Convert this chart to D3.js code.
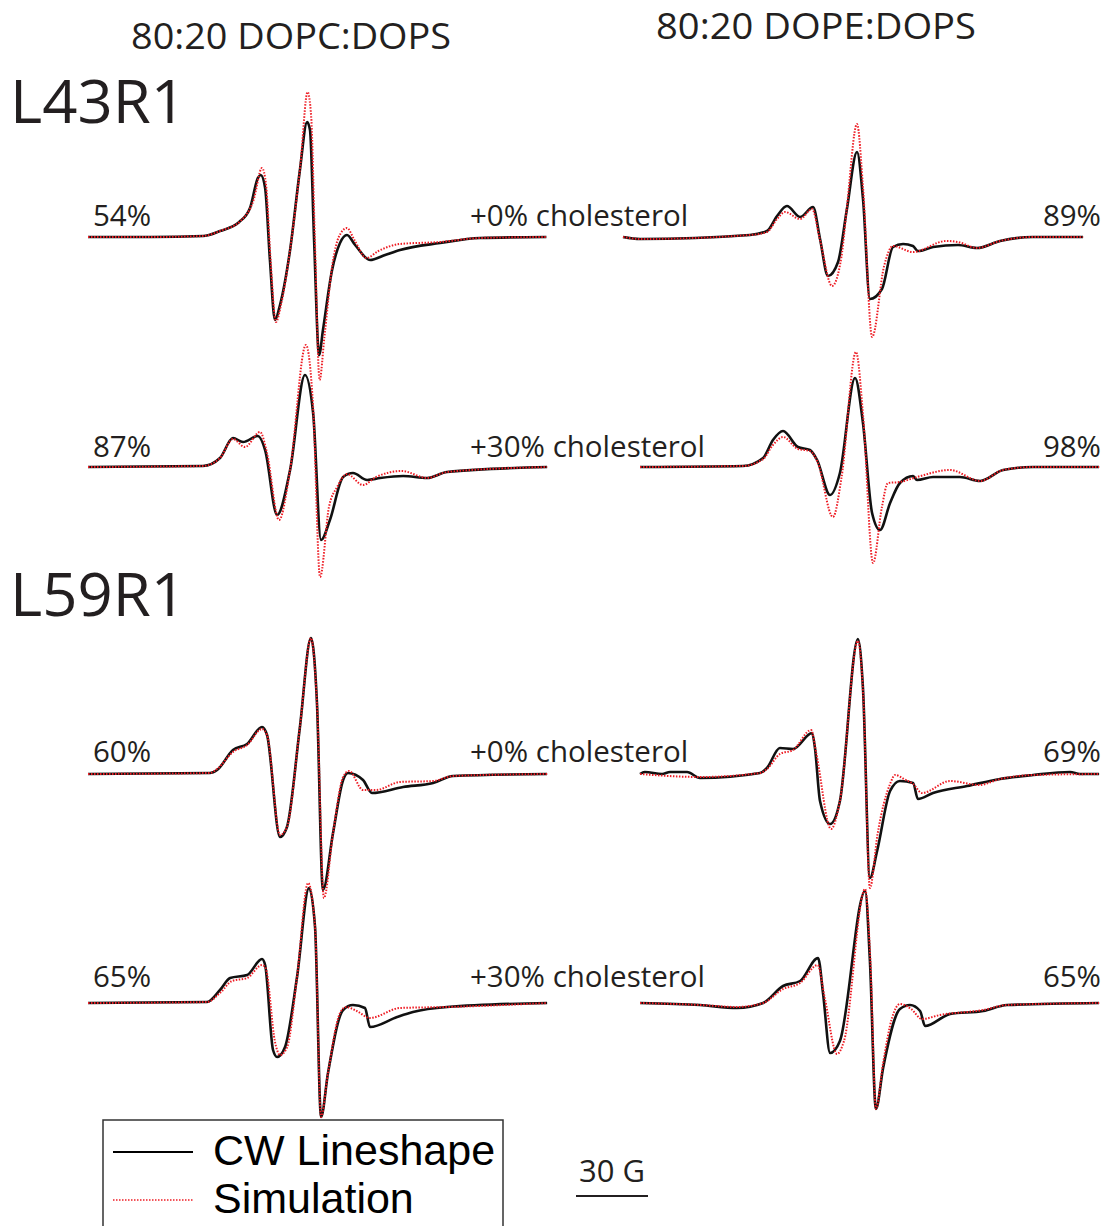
<!DOCTYPE html>
<html>
<head>
<meta charset="utf-8">
<script src="https://cdn.jsdelivr.net/npm/d3@7"></script>
<style>
  body { margin: 0; background: #fff; }
  text { font-family: "Open Sans", "Noto Sans", sans-serif; fill: #231f20; }
  .legend text { font-family: "Liberation Sans", Arial, sans-serif; fill: #000; }
</style>
</head>
<body>
<svg id="chart"></svg>
<script>
// field in G (0 = left end of each sweep), amplitude in a.u.
const l43DopcChol0Cw = [[0,0],[26,0],[48,1],[55,6],[63,15],[67.5,29],[70.8,59],[72,62],[73.8,49],[75.8,-23],[77.9,-83],[80,-68],[84.2,-13],[88.3,67],[91.3,115],[92.5,107],[94.2,-3],[96.3,-118],[97.9,-93],[101.7,-33],[105,-6],[107.9,2],[111.3,-8],[117.5,-23],[123.8,-18],[130,-13],[146.7,-6],[163.3,-1],[191,0]];
const l43DopcChol0Sim = [[0,0],[26,0],[48,1],[55,6],[63.5,16],[69,37],[72.5,69],[74.2,52],[76,-20],[78.3,-85],[80.4,-68],[84.2,-13],[88.5,72],[91.5,145],[93,120],[94.5,0],[96.5,-143],[98.5,-100],[102,-25],[104.5,0],[107.9,9],[111,-3],[116,-21],[121,-14],[130,-7],[146.7,-5],[163.3,-1],[191,0]];

const l43DopeChol0Cw = [[0,0],[7.1,-2],[52.9,2],[60,6],[64.2,21],[68.3,31],[73.8,20],[79.2,30],[82.1,-2],[85.4,-39],[89.6,-25],[93.3,28],[97.5,85],[100,38],[102.9,-62],[107.9,-52],[112.5,-10],[116.7,-7],[120.8,-9],[122.9,-14],[129.2,-10],[139.6,-8],[147.5,-11],[157.1,-4],[170.8,0],[191.7,0]];
const l43DopeChol0Sim = [[0,0],[7.1,-2],[52.9,2],[60,5],[64.2,18],[67.5,25],[73.8,18],[78.8,28],[82,-2],[87.1,-49],[91,-20],[93.3,30],[97.5,113],[100,50],[103.8,-100],[108.8,-29],[112.5,-9],[120.8,-15],[134.6,-4],[139.6,-5],[147.5,-11],[157.1,-4],[170.8,0],[191.7,0]];

const l43DopcChol30Cw = [[0,0],[47.9,1],[55,9],[60.4,29],[64.6,25],[70.8,31],[73.8,17],[78.8,-48],[84.2,-3],[90.4,92],[93.8,54],[97.1,-73],[100.8,-53],[106.3,-10],[110.4,-6],[116.3,-13],[121.7,-11],[131.3,-9],[141.3,-11],[149.6,-5],[191.3,0]];
const l43DopcChol30Sim = [[0,0],[47.9,1],[55,9],[60.4,28],[65.4,20],[71.7,35],[74.5,15],[79.6,-53],[84.2,-3],[90.8,122],[93.8,60],[96.7,-110],[100.4,-40],[103.8,-20],[107.9,-7],[114.6,-18],[120,-10],[130.8,-4],[141.3,-11],[149.6,-5],[191.3,0]];

const l43DopeChol30Cw = [[0,0],[42.9,1],[51.3,9],[55.4,27],[59.6,36],[65.8,20],[70.8,17],[73.8,7],[79.2,-28],[83.3,-6],[89.6,89],[92.9,44],[96.7,-46],[100,-63],[104.2,-36],[108.3,-16],[113.8,-9],[115.4,-13],[122.1,-10],[133.3,-10],[141.7,-14],[151.3,-3],[163.8,0],[191.3,0]];
const l43DopeChol30Sim = [[0,0],[42.9,1],[51.3,8],[55.4,22],[59.6,30],[65.8,18],[70.8,16],[74,5],[80.4,-50],[84,-10],[90,115],[93,50],[97.1,-96],[100.8,-40],[103.3,-16],[108.3,-15],[115.4,-10],[129.2,-3],[141.7,-14],[151.3,-3],[163.8,0],[191.3,0]];

const l59DopcChol0Cw = [[0,0],[50.8,1],[53.8,4],[60.4,24],[66.3,30],[72.5,47],[74.6,39],[80,-63],[82.9,-53],[88.3,47],[92.9,136],[95.4,71],[97.9,-116],[102.1,-59],[106.3,-6],[108.3,1],[114.6,-6],[118.3,-19],[131.3,-13],[143.8,-9],[152.1,-2],[191.3,0]];
const l59DopcChol0Sim = [[0,0],[50.8,1],[53.8,5],[60.4,22],[66.3,29],[72.5,45],[74.6,39],[80,-61],[82.9,-53],[88.3,47],[92.9,136],[95.4,71],[98.3,-124],[102.1,-59],[106.3,-3],[108.8,3],[114.6,-16],[120,-16],[130,-8],[143.8,-7],[152.1,-2],[191.3,0]];

const l59DopeChol0Cw = [[0,0],[2,2],[9.2,0],[12.5,2],[19.6,2],[25,-4],[50,1],[52.9,6],[58.3,26],[63.8,25],[71.7,41],[72.9,26],[75,-27],[79.2,-50],[83.3,-27],[90.8,135],[92.9,86],[95.8,-104],[98.8,-77],[104.2,-17],[108.3,-7],[113.8,-9],[115.8,-25],[122.1,-19],[136.3,-12],[150,-5],[163.8,-1],[179.2,2],[183.3,0],[191.3,0]];
const l59DopeChol0Sim = [[0,0],[25,-3],[50,1],[52.9,5],[58.3,20],[63.8,24],[71.3,44],[73.5,20],[79.6,-55],[83.3,-27],[90.8,133],[93,80],[95.8,-114],[99,-60],[104.2,-10],[106.3,-1],[110,-5],[113.8,-10],[117.5,-19],[129.2,-7],[141.3,-11],[150,-5],[163.8,-1],[191.3,0]];

const l59DopcChol30Cw = [[0,0],[49.6,1],[55,13],[59.2,25],[66.3,28],[72.5,44],[73.8,38],[77.1,-47],[78.8,-54],[82.1,-44],[87.1,26],[92.1,115],[94.6,76],[97.1,-114],[100,-70],[106.3,-7],[110.4,-2],[115.4,-5],[117.5,-24],[128.8,-14],[135.4,-9],[149.6,-4],[191.3,0]];
const l59DopcChol30Sim = [[0,0],[49.6,1],[55,10],[60,22],[66.3,25],[72.5,38],[74,35],[78,-40],[80,-52],[83,-44],[87.1,26],[91.7,120],[94.6,76],[97.1,-114],[100,-70],[105,-10],[107.5,-4],[112,-8],[117.5,-15],[130,-5],[149.6,-4],[191.3,0]];

const l59DopeChol30Cw = [[0,0],[25,-2],[40.4,-5],[51.3,0],[59.6,17],[66.7,22],[74.2,45],[76.3,9],[79.2,-50],[83.3,-38],[93.8,112],[95.8,42],[98.3,-106],[101.3,-65],[108.3,-6],[112.5,-2],[116.7,-8],[118.8,-23],[129.2,-11],[143,-8],[152.9,-2],[191.3,0]];
const l59DopeChol30Sim = [[0,0],[25,-2],[40.4,-4],[51.3,0],[59.6,14],[66.7,20],[74,38],[77,5],[82.1,-51],[85,-38],[93.8,114],[96,42],[98.3,-106],[101.3,-60],[105,-15],[108.3,-1],[113,-6],[117.5,-16],[125,-12],[143,-7],[152.9,-2],[191.3,0]];

const lipidTitles = ["80:20 DOPC:DOPS", "80:20 DOPE:DOPS"];
const mutants = ["L43R1", "L59R1"];
const cholLabels = ["+0% cholesterol", "+30% cholesterol", "+0% cholesterol", "+30% cholesterol"];
const dopcPct = ["54%", "87%", "60%", "65%"];
const dopePct = ["89%", "98%", "69%", "65%"];
const legendLabels = ["CW Lineshape", "Simulation"];
const scaleBarG = 30;

const W = 1105, H = 1226;
const svg = d3.select("#chart").attr("width", W).attr("height", H);

// layout of the eight spectra: left edge and baseline of each
const rowBase = [237, 467, 774, 1003];
const panels = [
  {cw: l43DopcChol0Cw,  sim: l43DopcChol0Sim,  x0: 88,  row: 0},
  {cw: l43DopeChol0Cw,  sim: l43DopeChol0Sim,  x0: 623, row: 0},
  {cw: l43DopcChol30Cw, sim: l43DopcChol30Sim, x0: 88,  row: 1},
  {cw: l43DopeChol30Cw, sim: l43DopeChol30Sim, x0: 640, row: 1},
  {cw: l59DopcChol0Cw,  sim: l59DopcChol0Sim,  x0: 88,  row: 2},
  {cw: l59DopeChol0Cw,  sim: l59DopeChol0Sim,  x0: 640, row: 2},
  {cw: l59DopcChol30Cw, sim: l59DopcChol30Sim, x0: 88,  row: 3},
  {cw: l59DopeChol30Cw, sim: l59DopeChol30Sim, x0: 640, row: 3}
];
const pxPerG = 2.4;

panels.forEach(p => {
  const x = d3.scaleLinear().domain([0, 100]).range([p.x0, p.x0 + 100 * pxPerG]);
  const base = rowBase[p.row];
  const y = d3.scaleLinear().domain([-150, 150]).range([base + 150, base - 150]);
  const line = d3.line()
    .x(d => x(d[0]))
    .y(d => y(d[1]))
    .curve(d3.curveMonotoneX);

  svg.append("path")
    .datum(p.cw)
    .attr("d", line)
    .attr("fill", "none")
    .attr("stroke", "#111")
    .attr("stroke-width", 2.6)
    .attr("stroke-linejoin", "round");

  svg.append("path")
    .datum(p.sim)
    .attr("d", line)
    .attr("fill", "none")
    .attr("stroke", "#ee1c24")
    .attr("stroke-width", 2)
    .attr("stroke-dasharray", "1.5,1.5");
});

// column titles
svg.selectAll(".title")
  .data(lipidTitles)
  .enter().append("text")
  .attr("x", (d, i) => i === 0 ? 291 : 816)
  .attr("y", (d, i) => i === 0 ? 49 : 39)
  .attr("text-anchor", "middle")
  .style("font-size", "36px")
  .attr("textLength", 320)
  .attr("lengthAdjust", "spacingAndGlyphs")
  .text(d => d);

svg.selectAll(".mutant")
  .data(mutants)
  .enter().append("text")
  .attr("x", 10)
  .attr("y", (d, i) => i === 0 ? 123 : 616)
  .style("font-size", "60px")
  .attr("textLength", 176)
  .attr("lengthAdjust", "spacingAndGlyphs")
  .text(d => d);

const labelY = [226, 457, 762, 987];

svg.selectAll(".dopcPct")
  .data(dopcPct)
  .enter().append("text")
  .attr("x", 93)
  .attr("y", (d, i) => labelY[i])
  .style("font-size", "29.5px")
  .text(d => d);

svg.selectAll(".dopePct")
  .data(dopePct)
  .enter().append("text")
  .attr("x", 1101)
  .attr("y", (d, i) => labelY[i])
  .attr("text-anchor", "end")
  .style("font-size", "29.5px")
  .text(d => d);

svg.selectAll(".chol")
  .data(cholLabels)
  .enter().append("text")
  .attr("x", 470)
  .attr("y", (d, i) => labelY[i])
  .style("font-size", "29.5px")
  .text(d => d);

// legend
const legend = svg.append("g").attr("class", "legend");
legend.append("rect")
  .attr("x", 103).attr("y", 1120)
  .attr("width", 400).attr("height", 120)
  .attr("fill", "#fff")
  .attr("stroke", "#333")
  .attr("stroke-width", 1.5);

legendLabels.forEach((t, i) => {
  const ly = 1152 + i * 48;
  legend.append("line")
    .attr("x1", 113).attr("x2", 193)
    .attr("y1", ly).attr("y2", ly)
    .attr("stroke", i === 0 ? "#000" : "#ee1c24")
    .attr("stroke-width", i === 0 ? 2 : 1.5)
    .attr("stroke-dasharray", i === 0 ? null : "1.5,1.5");
  legend.append("text")
    .attr("x", 213)
    .attr("y", ly + 13)
    .style("font-size", "43px")
    .text(t);
});

// field scale bar
const xs = d3.scaleLinear().domain([0, scaleBarG]).range([576, 576 + scaleBarG * pxPerG]);
svg.append("line")
  .attr("x1", xs(0)).attr("x2", xs(scaleBarG))
  .attr("y1", 1196).attr("y2", 1196)
  .attr("stroke", "#231f20")
  .attr("stroke-width", 2);
svg.append("text")
  .attr("x", (xs(0) + xs(scaleBarG)) / 2)
  .attr("y", 1182)
  .attr("text-anchor", "middle")
  .style("font-size", "31px")
  .text(scaleBarG + " G");
</script>
</body>
</html>
